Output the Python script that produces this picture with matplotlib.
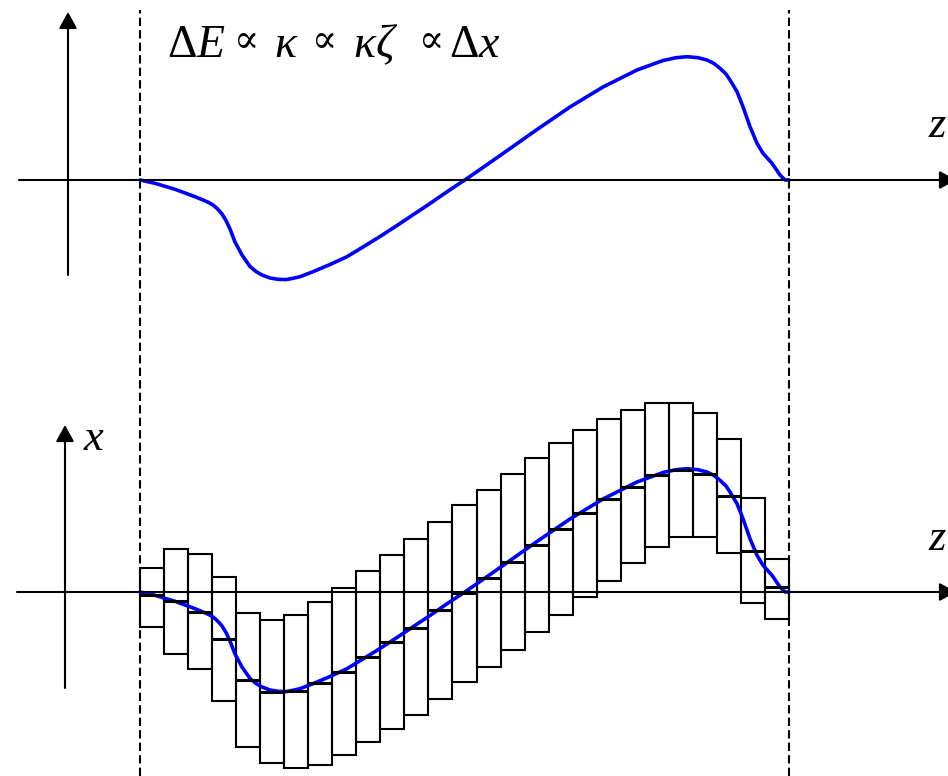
import matplotlib
matplotlib.use("Agg")
import matplotlib.pyplot as plt
import numpy as np

plt.rcParams['mathtext.fontset'] = 'custom'
plt.rcParams['mathtext.rm'] = 'Liberation Serif'
plt.rcParams['mathtext.it'] = 'Liberation Serif:italic'
plt.rcParams['mathtext.bf'] = 'Liberation Serif:bold'

# energy-deviation curve along z (same shape in both panels)
curve_z = [140, 155, 175, 195, 205, 209, 213, 216, 219, 222, 226, 230, 235, 242, 250, 256, 262,
           270, 278, 286, 293, 300, 313, 330, 347, 363, 380, 397, 413, 430, 447, 467, 480, 503,
           537, 570, 603, 637, 663, 676, 687, 698, 707, 714, 720, 726, 730, 737, 743, 750, 757,
           763, 772, 780, 785, 789]
curve_val = [0, -3.3, -9.3, -16.7, -20.8, -22.7, -25, -27.5, -30.5, -34, -40.5, -49, -62, -75,
             -86.5, -91.5, -95, -98, -99.3, -99.6, -98.3, -96.7, -91.7, -84.5, -76.7, -67, -56.5,
             -45.5, -34.8, -23.5, -11.8, 1.5, 10.5, 26.5, 50.5, 73, 93, 110, 119.5, 122.3, 123.3,
             122.3, 120, 116.5, 111.7, 106, 100, 88.3, 73.3, 53.3, 36.7, 26.7, 16.7, 5, 0, 0]

# slices: top, bottom and centroid offset of each slice
box_top = [24.3, 43, 37.7, 15.3, -20.7, -28, -23, -9.7, 4.3, 21.3, 37, 52.7, 69.7, 87, 102,
           117.7, 133.7, 149.3, 162, 173, 182, 188.7, 188.7, 179.3, 153, 93.7, 32.7]
box_bottom = [-34.7, -62, -77.3, -108.7, -154.7, -171.3, -175.7, -173, -163, -150.3, -137,
              -123.3, -107, -89.7, -74.7, -58, -40.3, -23, -4.7, 11.3, 29.3, 45.3, 54.7, 55.3,
              38.7, -10.7, -26.7]
box_mid = [-3, -9, -20, -46.5, -87.5, -100, -99, -91.3, -79.7, -64.7, -50.3, -35.7, -18, -1.3,
           13.7, 30.3, 47, 62.7, 78.7, 92.7, 105.3, 117, 122, 117.7, 96, 41.3, 4.7]

# pieces of the relation written above the upper panel
formula_parts = [r'$\Delta E$', '\u221d', r'$\kappa$', '\u221d', r'$\kappa\zeta$', '\u221d', r'$\Delta x$']
formula_x = [167, 234, 274, 312, 353, 419, 449]

W, H = 948, 776
TOP_BASE = H - 180
BOT_BASE = H - 592
Z_START, Z_END = 140, 789

fig = plt.figure(figsize=(W / 100, H / 100), dpi=100)
ax = fig.add_axes([0, 0, 1, 1])
ax.set_xlim(0, W)
ax.set_ylim(0, H)
ax.axis('off')

# bunch boundaries
ax.vlines([Z_START, Z_END], 0, H - 10, colors='black', linewidth=1.5, linestyles=(0, (4, 2)))

# coordinate axes
arrow = dict(arrowstyle='-|>,head_length=0.4,head_width=0.22', color='black', lw=1.5,
             mutation_scale=25, shrinkA=0, shrinkB=0)
ax.annotate('', xy=(956, TOP_BASE), xytext=(19, TOP_BASE), arrowprops=arrow, annotation_clip=False)
ax.annotate('', xy=(68, H - 12), xytext=(68, H - 275), arrowprops=arrow, annotation_clip=False)
ax.annotate('', xy=(956, BOT_BASE), xytext=(17, BOT_BASE), arrowprops=arrow, annotation_clip=False)
ax.annotate('', xy=(65, H - 425), xytext=(65, H - 688), arrowprops=arrow, annotation_clip=False)

ax.text(928, H - 137, '$z$', fontsize=32, ha='left', va='baseline')
ax.text(928, H - 550, '$z$', fontsize=32, ha='left', va='baseline')
ax.text(83, H - 450, '$x$', fontsize=32, ha='left', va='baseline')
for part, px in zip(formula_parts, formula_x):
    if part.startswith('$'):
        ax.text(px, H - 57, part, fontsize=33, ha='left', va='baseline')
    else:
        ax.text(px, H - 52, part, fontsize=27, ha='left', va='baseline',
                family=['Liberation Serif', 'DejaVu Serif'])

# upper panel: energy change
cz = np.array(curve_z)
cv = np.array(curve_val)
ax.plot(cz, TOP_BASE + cv, color='#0000ff', lw=2.6, solid_capstyle='round', solid_joinstyle='round')

# lower panel: slices with their centroids
edges = np.linspace(Z_START, Z_END, len(box_mid) + 1)
top = np.array(box_top)
bot = np.array(box_bottom)
ax.bar(edges[:-1], top - bot, width=np.diff(edges), bottom=BOT_BASE + bot, align='edge',
       fill=False, edgecolor='black', linewidth=1.5)
ax.plot(cz, BOT_BASE + cv, color='#0000ff', lw=2.6, solid_capstyle='round', solid_joinstyle='round')
ax.hlines(BOT_BASE + np.array(box_mid), edges[:-1], edges[1:], colors='black', linewidth=2.2)

fig.savefig('out.png', dpi=100)
